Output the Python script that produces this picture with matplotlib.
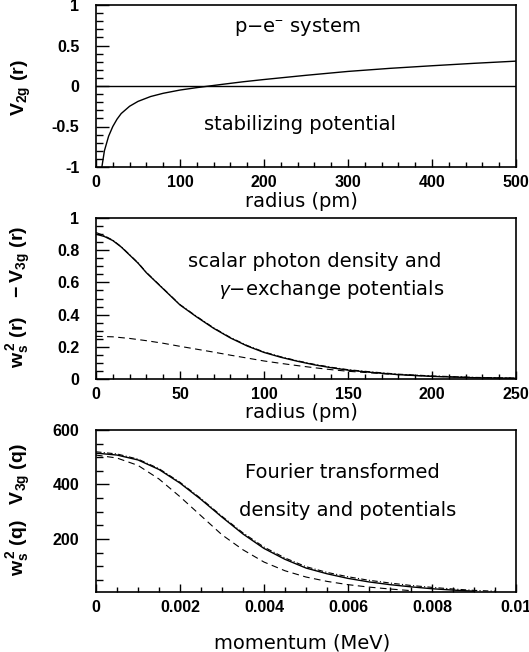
import matplotlib
matplotlib.use("Agg")
import matplotlib.pyplot as plt
from matplotlib.ticker import FixedLocator, MultipleLocator

plt.rcParams['mathtext.fontset'] = 'custom'
plt.rcParams['mathtext.rm'] = 'Liberation Sans'
plt.rcParams['mathtext.bf'] = 'Liberation Sans:bold'
plt.rcParams['mathtext.it'] = 'Liberation Sans:italic'

# --- panel 1 : stabilizing potential V_2g(r)
r_top = [7, 10, 15, 20, 25, 30, 40, 50, 65, 80, 100, 120, 135, 150, 175, 200,
         250, 300, 350, 400, 450, 500]
v2g = [-1.0, -0.80, -0.62, -0.50, -0.41, -0.34, -0.25, -0.19, -0.13, -0.09,
       -0.05, -0.02, 0.0, 0.02, 0.052, 0.08, 0.132, 0.18, 0.218, 0.25, 0.28, 0.307]

# --- panel 2 : density and potentials vs radius
r_mid = [0, 5, 10, 15, 20, 25, 30, 40, 50, 60, 70, 80, 90, 100, 110, 120, 130,
         140, 150, 165, 180, 200, 225, 250]
ws2_r = [0.90, 0.885, 0.86, 0.82, 0.77, 0.72, 0.66, 0.56, 0.46, 0.385, 0.315,
         0.255, 0.205, 0.165, 0.135, 0.11, 0.088, 0.07, 0.055, 0.04, 0.027,
         0.016, 0.008, 0.004]
v3g_r = [0.91, 0.89, 0.862, 0.822, 0.772, 0.722, 0.662, 0.562, 0.462, 0.388,
         0.318, 0.258, 0.208, 0.168, 0.138, 0.113, 0.091, 0.073, 0.058, 0.043,
         0.03, 0.019, 0.01, 0.006]
r_dash = [0, 10, 20, 30, 40, 50, 60, 70, 80, 90, 100, 110, 120, 130, 140, 150,
          175, 200, 225, 250]
v_dash_r = [0.265, 0.262, 0.252, 0.238, 0.222, 0.203, 0.185, 0.167, 0.148, 0.13,
            0.112, 0.097, 0.083, 0.07, 0.058, 0.048, 0.03, 0.017, 0.009, 0.005]

# --- panel 3 : Fourier transforms vs momentum
q_sol = [0, 0.0005, 0.001, 0.0015, 0.002, 0.0025, 0.003, 0.0035, 0.004, 0.0045,
         0.005, 0.0055, 0.006, 0.0065, 0.007, 0.0075, 0.008, 0.0085, 0.009]
ws2_q = [515, 508, 490, 455, 405, 345, 280, 218, 165, 125, 93, 72, 55, 42, 32,
         24, 17, 12, 8]
q_dd = [0, 0.0005, 0.001, 0.0015, 0.002, 0.0025, 0.003, 0.0035, 0.004, 0.0045,
        0.005, 0.0055, 0.006, 0.0065, 0.007, 0.0075, 0.008, 0.0085, 0.009, 0.0095]
v3g_q = [520, 512, 493, 458, 408, 348, 283, 222, 170, 130, 98, 77, 61, 48, 38,
         29, 22, 16, 11, 8]
q_dash = [0, 0.0005, 0.001, 0.0015, 0.002, 0.0025, 0.003, 0.0035, 0.004, 0.0045,
          0.005, 0.0055, 0.006, 0.0065, 0.007, 0.0075]
v_dash_q = [508, 497, 470, 420, 355, 285, 215, 160, 115, 83, 60, 44, 32, 23, 16, 10]

# tick labels
top_xt = [0, 100, 200, 300, 400, 500]
top_yt = [-1, -0.5, 0, 0.5, 1]
top_yl = ['-1', '-0.5', '0', '0.5', '1']
mid_xt = [0, 50, 100, 150, 200, 250]
mid_yt = [0, 0.2, 0.4, 0.6, 0.8, 1]
mid_yl = ['0', '0.2', '0.4', '0.6', '0.8', '1']
bot_xt = [0, 0.002, 0.004, 0.006, 0.008, 0.01]
bot_xl = ['0', '0.002', '0.004', '0.006', '0.008', '0.01']
bot_yt = [200, 400, 600]

TICKFONT = dict(family='Liberation Sans', weight='bold', size=11.5)
TXT = dict(family='DejaVu Sans', size=14)


def style(ax, xt, xl, yt, yl, xminor, yminor):
    ax.xaxis.set_major_locator(FixedLocator(xt))
    ax.yaxis.set_major_locator(FixedLocator(yt))
    ax.set_xticklabels(xl, fontdict=TICKFONT)
    ax.set_yticklabels(yl, fontdict=TICKFONT)
    ax.xaxis.set_minor_locator(MultipleLocator(xminor))
    ax.yaxis.set_minor_locator(MultipleLocator(yminor))
    ax.tick_params(axis='x', which='major', direction='in', length=6, width=1, pad=6)
    ax.tick_params(axis='x', which='minor', direction='in', length=3.5, width=1)
    ax.tick_params(axis='y', which='major', direction='in', length=9, width=1, pad=12)
    ax.tick_params(axis='y', which='minor', direction='in', length=5, width=1)
    for s in ax.spines.values():
        s.set_linewidth(1.2)


fig = plt.figure(figsize=(5.29, 6.52), dpi=100)
W, H = 529, 652


def add_ax(top, bottom):
    return fig.add_axes([96 / W, 1 - bottom / H, 420 / W, (bottom - top) / H])


# panel 1
ax1 = add_ax(5, 167)
ax1.plot(r_top, v2g, color='black', lw=1.0)
ax1.axhline(0, color='black', lw=1.0)
ax1.set_xlim(0, 500)
ax1.set_ylim(-1, 1)
style(ax1, top_xt, [str(v) for v in top_xt], top_yt, top_yl, 20, 0.1)
ax1.set_ylabel(r'$\mathbf{V_{2g}\ (r)}$', fontsize=14)
ax1.yaxis.set_label_coords(-0.15, 0.49)
ax1.set_xlabel('radius (pm)', **TXT, va='center')
ax1.xaxis.set_label_coords(0.49, -0.21)
ax1.text(0.48, 0.864, 'p\u2212e$^{-}$ system', transform=ax1.transAxes,
         ha='center', va='center', **TXT)
ax1.text(0.486, 0.26, 'stabilizing potential', transform=ax1.transAxes,
         ha='center', va='center', **TXT)

# panel 2
ax2 = add_ax(218, 379)
ax2.plot(r_mid, ws2_r, color='black', lw=1.0)
ax2.plot(r_mid, v3g_r, color='black', lw=0.8, ls=(0, (5, 2, 1, 2)))
ax2.plot(r_dash, v_dash_r, color='black', lw=0.8, ls=(0, (6, 4)))
ax2.set_xlim(0, 250)
ax2.set_ylim(0, 1)
style(ax2, mid_xt, [str(v) for v in mid_xt], mid_yt, mid_yl, 10, 0.05)
ax2.set_ylabel(r'$\mathbf{w_s^{\,2}\ (r)\quad -V_{3g}\ (r)}$', fontsize=14)
ax2.yaxis.set_label_coords(-0.15, 0.51)
ax2.set_xlabel('radius (pm)', **TXT, va='center')
ax2.xaxis.set_label_coords(0.49, -0.205)
ax2.text(0.521, 0.727, 'scalar photon density and', transform=ax2.transAxes,
         ha='center', va='center', **TXT)
ax2.text(0.562, 0.553, '$\\gamma$\u2212exchange potentials', transform=ax2.transAxes,
         ha='center', va='center', **TXT)

# panel 3
ax3 = add_ax(430, 592)
ax3.plot(q_sol, ws2_q, color='black', lw=1.0)
ax3.plot(q_dd, v3g_q, color='black', lw=0.8, ls=(0, (5, 2, 1, 2)))
ax3.plot(q_dash, v_dash_q, color='black', lw=0.8, ls=(0, (6, 4)))
ax3.set_xlim(0, 0.01)
ax3.set_ylim(5, 600)
style(ax3, bot_xt, bot_xl, bot_yt, [str(v) for v in bot_yt], 0.0005, 50)
ax3.set_ylabel(r'$\mathbf{w_s^{\,2}\ (q)\quad V_{3g}\ (q)}$', fontsize=14)
ax3.yaxis.set_label_coords(-0.15, 0.51)
ax3.set_xlabel('momentum (MeV)', **TXT, va='center')
ax3.xaxis.set_label_coords(0.49, -0.315)
ax3.text(0.586, 0.74, 'Fourier transformed', transform=ax3.transAxes,
         ha='center', va='center', **TXT)
ax3.text(0.598, 0.506, 'density and potentials', transform=ax3.transAxes,
         ha='center', va='center', **TXT)

fig.savefig('out.png', dpi=100)
